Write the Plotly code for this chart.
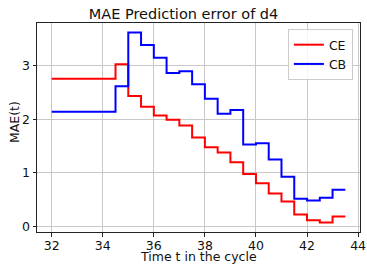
import plotly.graph_objects as go

times = [32, 34.5, 35, 35.5, 36, 36.5, 37, 37.5, 38, 38.5, 39, 39.5, 40, 40.5, 41, 41.5, 42, 42.5, 43, 43.5]
ce = [2.75, 3.02, 2.43, 2.23, 2.07, 1.99, 1.88, 1.66, 1.48, 1.38, 1.20, 0.98, 0.81, 0.62, 0.47, 0.23, 0.12, 0.08, 0.19, 0.19]
cb = [2.14, 2.61, 3.61, 3.38, 3.14, 2.86, 2.89, 2.65, 2.38, 2.10, 2.17, 1.53, 1.55, 1.25, 0.93, 0.52, 0.49, 0.54, 0.69, 0.69]
xticks = [32, 34, 36, 38, 40, 42, 44]
yticks = [0, 1, 2, 3]

font = "DejaVu Sans"
fig = go.Figure()
fig.add_trace(go.Scatter(x=times, y=ce, mode="lines", line=dict(color="red", width=2, shape="hv"), name="CE"))
fig.add_trace(go.Scatter(x=times, y=cb, mode="lines", line=dict(color="blue", width=2, shape="hv"), name="CB"))

axis_common = dict(showline=True, linecolor="#222", linewidth=1, mirror=True,
                   showgrid=True, gridcolor="#c8c8c8", gridwidth=1,
                   ticks="outside", ticklen=3.5, tickcolor="#222", tickwidth=1,
                   zeroline=False, automargin=False,
                   tickfont=dict(family=font, size=12.5, color="#111"))

fig.update_layout(
    width=367, height=264,
    margin=dict(l=37, r=7, t=23, b=32, autoexpand=False),
    paper_bgcolor="white", plot_bgcolor="white",
    title=dict(text="MAE Prediction error of d4", x=0.5, xanchor="center", y=1 - 14 / 264, yanchor="middle",
               font=dict(family=font, size=14.5, color="#111"), automargin=False),
    xaxis=dict(range=[31.425, 44.075], tickvals=xticks, ticklabelstandoff=-2, **axis_common),
    yaxis=dict(range=[-0.097, 3.787], tickvals=yticks, **axis_common),
    legend=dict(x=0.978, y=0.971, xanchor="right", yanchor="top", bordercolor="#ccc", borderwidth=1,
                bgcolor="rgba(255,255,255,0.8)", font=dict(family=font, size=12.5, color="#111"),
                itemwidth=30, tracegroupgap=0),
    showlegend=True,
    hovermode=False,
    annotations=[
        dict(text="Time t in the cycle", xref="paper", yref="paper", x=0.5, y=-(256.5 - 232) / 209,
             xanchor="center", yanchor="middle", showarrow=False, borderpad=0,
             font=dict(family=font, size=12.5, color="#111")),
        dict(text="MAE(t)", xref="paper", yref="paper", x=-(37 - 14.5) / 323, y=(232 - 122.5) / 209,
             textangle=-90, xanchor="center", yanchor="middle", showarrow=False, borderpad=0,
             font=dict(family=font, size=12.5, color="#111")),
    ],
)

fig.write_html("out.html", config={"displayModeBar": False},
               post_script="document.body.style.margin='0';document.body.style.overflow='hidden';")
